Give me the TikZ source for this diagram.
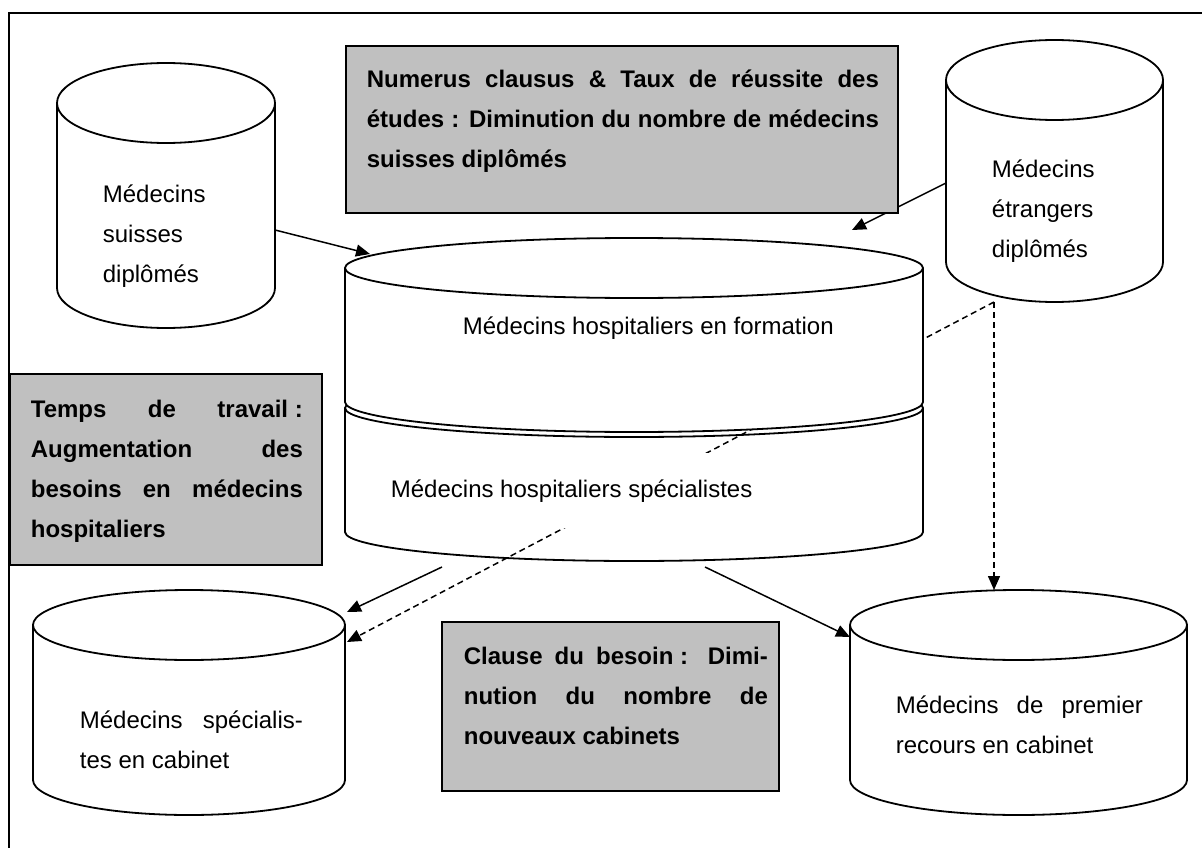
\documentclass[tikz,border=0pt]{standalone}
\usepackage{fontspec}
\setmainfont{Liberation Sans}
\usetikzlibrary{arrows.meta}
\definecolor{boxgrey}{RGB}{192,192,192}
\tikzstyle{greybox} = [draw=black, line width=2pt, fill=boxgrey]
\tikzstyle{txt} = [inner sep=0pt, anchor=base west, font=\fontsize{24}{40}\selectfont, execute at begin node={\tolerance=10000\hyphenpenalty=10000}]
\tikzstyle{boldtxt} = [txt, font=\fontsize{24}{40}\selectfont\bfseries, align=justify]
\tikzstyle{arrow} = [line width=1.5pt, -{Triangle[length=14pt,width=12pt]}]
\tikzstyle{dasharrow} = [arrow, dash pattern=on 6pt off 4pt]
\newcommand{\drum}[5]{%
  \filldraw[fill=white] ({#1-#2},#3) -- ({#1-#2},#4)
    arc[start angle=180, end angle=360, x radius=#2pt, y radius=#5pt]
    -- ({#1+#2},#3)
    arc[start angle=0, end angle=180, x radius=#2pt, y radius=#5pt] -- cycle;
  \draw ({#1-#2},#3) arc[start angle=180, end angle=360, x radius=#2pt, y radius=#5pt];}

\begin{document}
\begin{tikzpicture}[x=1pt, y=-1pt, line width=1.8pt]
                    \useasboundingbox (0,0) rectangle (1202,848);
                    \draw [line width=2pt] (9,848) -- (9,13) -- (1202,13);
                    \coordinate (suisses-out) at (275,230);
                    \coordinate (formation-in) at (370,254);
                    \coordinate (etrangers-out) at (946,183);
                    \coordinate (formation-top) at (852,230);
                    \coordinate (etrangers-bottom) at (994,302);
                    \coordinate (recours-top) at (994,590);
                    \coordinate (cabinet-dashed) at (347,642);
                    \coordinate (cabinet-in) at (347,612);
                    \coordinate (specialistes-left) at (442,567);
                    \coordinate (specialistes-right) at (705,567);
                    \coordinate (recours-in) at (850,637);
                    \drum{166}{109}{103}{288}{40}
                    \node [txt, text width=140pt, align=left] (suisses) at (102,202) {Médecins\\suisses\\diplômés};
                    \drum{1054.5}{108.5}{80}{262}{40}
                    \node [txt, text width=140pt, align=left] (etrangers) at (991,177) {Médecins\\étrangers\\diplômés};
                    \drum{634}{289}{408}{532}{29}
                    \draw [dasharrow] (etrangers-bottom) -- (cabinet-dashed);
                    \drum{634}{289}{268}{402}{30}
                    \node [txt] (formation) at (462,334) {Médecins hospitaliers en formation};
                    \node [txt, fill=white, inner xsep=10pt, text height=44pt, text depth=31pt] (specialistes) at (380,497) {Médecins hospitaliers spécialistes};
                    \draw [arrow] (suisses-out) -- (formation-in);
                    \draw [arrow] (etrangers-out) -- (formation-top);
                    \draw [greybox] (346,46) rectangle (898,213);
                    \node [boldtxt, text width=512pt] (numerus) at (366,88) {Numerus clausus \& Taux de réussite des\linebreak études : Diminution du nombre de médecins\linebreak suisses diplômés};
                    \draw [greybox] (10,374) rectangle (322,565);
                    \node [boldtxt, text width=272pt] (temps) at (30,417) {Temps de travail\kern0.28em:\linebreak Augmentation des\linebreak besoins en médecins\linebreak hospitaliers};
                    \draw [greybox] (442,622) rectangle (779,791);
                    \node [boldtxt, text width=304pt] (clause) at (463,664) {Clause du besoin\kern0.28em: Dimi-\linebreak nution du nombre de\linebreak nouveaux cabinets};
                    \drum{189}{156}{625}{780}{35}
                    \node [txt, text width=223pt, align=justify] (cabinet) at (79,728) {Médecins spécialis-\linebreak tes en cabinet};
                    \drum{1018.5}{168.5}{625}{780}{35}
                    \node [txt, text width=247pt, align=justify] (recours) at (895,713) {Médecins de premier\linebreak recours en cabinet};
                    \draw [arrow] (specialistes-left) -- (cabinet-in);
                    \draw [arrow] (specialistes-right) -- (recours-in);
                    \draw [dasharrow] (etrangers-bottom) -- (recours-top);
                \end{tikzpicture}
\end{document}
